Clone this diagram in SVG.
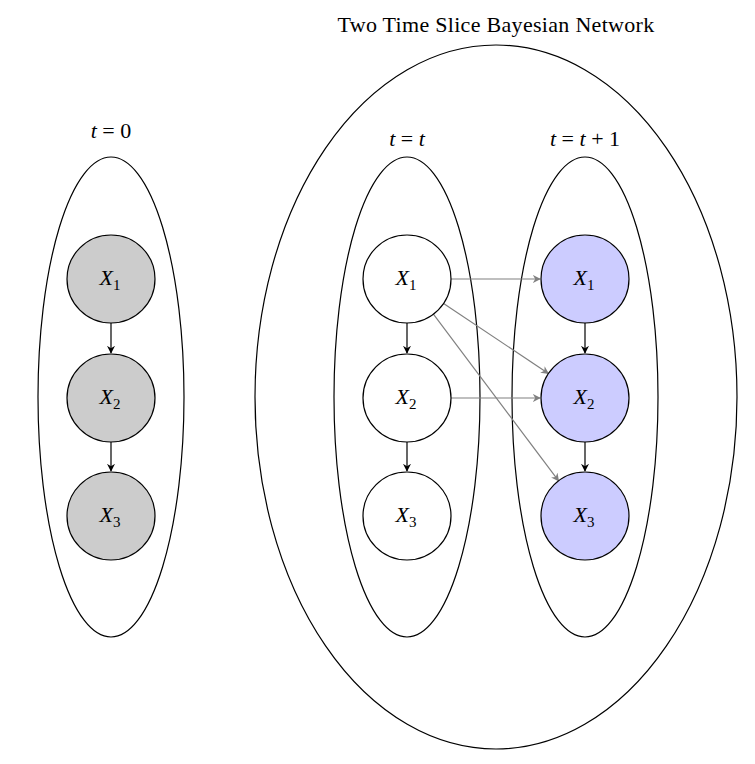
<svg xmlns="http://www.w3.org/2000/svg" width="755" height="764" viewBox="0 0 755 764">
<style>
.frame{fill:none;stroke:#000;stroke-width:1.2}
.node{stroke:#000;stroke-width:1.2}
.n0{fill:#cccccc}
.n1{fill:#ffffff}
.n2{fill:#ccccff}
.lbl{font-family:"Liberation Serif","DejaVu Serif",serif;font-size:22px;text-anchor:middle;fill:#000}
.ttl{font-size:22px;letter-spacing:0.3px}
.it{font-style:italic}
.sub{font-size:15px}
.blk{stroke:#000;stroke-width:1.2;fill:none;marker-end:url(#ab)}
.gry{stroke:#808080;stroke-width:1.2;fill:none;marker-end:url(#ag)}
</style>
<defs>
<marker id="ab" viewBox="0 0 10 10" refX="9" refY="5" markerWidth="8" markerHeight="8" markerUnits="userSpaceOnUse" orient="auto">
<path d="M0,0 L10,5 L0,10 L3,5 Z" fill="#000"/>
</marker>
<marker id="ag" viewBox="0 0 10 10" refX="9" refY="5" markerWidth="8" markerHeight="8" markerUnits="userSpaceOnUse" orient="auto">
<path d="M0,0 L10,5 L0,10 L3,5 Z" fill="#808080"/>
</marker>
</defs>
<rect width="755" height="764" fill="#fff"/>
<g id="frames">
<ellipse class="frame" cx="496" cy="397" rx="241" ry="352"/>
<ellipse class="frame" cx="111" cy="397" rx="73" ry="240"/>
<ellipse class="frame" cx="407" cy="397" rx="73" ry="240"/>
<ellipse class="frame" cx="585" cy="397" rx="73" ry="240"/>
<text class="lbl ttl" x="496" y="32">Two Time Slice Bayesian Network</text>
<text class="lbl" x="111" y="138" xml:space="preserve"><tspan class="it">t</tspan> = 0</text>
<text class="lbl" x="407" y="146"><tspan class="it">t</tspan> = <tspan class="it">t</tspan></text>
<text class="lbl" x="585" y="146"><tspan class="it">t</tspan> = <tspan class="it">t</tspan> + 1</text>
</g>
<g id="connectors">
<line class="blk" x1="111" y1="323" x2="111" y2="353"/>
<line class="blk" x1="111" y1="442" x2="111" y2="471"/>
<line class="blk" x1="407" y1="323" x2="407" y2="353"/>
<line class="blk" x1="407" y1="442" x2="407" y2="471"/>
<line class="blk" x1="585" y1="323" x2="585" y2="353"/>
<line class="blk" x1="585" y1="442" x2="585" y2="471"/>
<line class="gry" x1="451" y1="279" x2="540" y2="279"/>
<line class="gry" x1="451" y1="398" x2="540" y2="398"/>
<line class="gry" x1="443.6" y1="303.5" x2="548.4" y2="373.5"/>
<line class="gry" x1="433.4" y1="314.2" x2="558.6" y2="480.8"/>
</g>
<g id="a1"><circle class="node n0" cx="111" cy="279" r="44"/><text class="lbl" x="110" y="285"><tspan class="it">X</tspan><tspan class="sub" dy="5">1</tspan></text></g>
<g id="a2"><circle class="node n0" cx="111" cy="398" r="44"/><text class="lbl" x="110" y="404"><tspan class="it">X</tspan><tspan class="sub" dy="5">2</tspan></text></g>
<g id="a3"><circle class="node n0" cx="111" cy="516" r="44"/><text class="lbl" x="110" y="522"><tspan class="it">X</tspan><tspan class="sub" dy="5">3</tspan></text></g>
<g id="b1"><circle class="node n1" cx="407" cy="279" r="44"/><text class="lbl" x="406" y="285"><tspan class="it">X</tspan><tspan class="sub" dy="5">1</tspan></text></g>
<g id="b2"><circle class="node n1" cx="407" cy="398" r="44"/><text class="lbl" x="406" y="404"><tspan class="it">X</tspan><tspan class="sub" dy="5">2</tspan></text></g>
<g id="b3"><circle class="node n1" cx="407" cy="516" r="44"/><text class="lbl" x="406" y="522"><tspan class="it">X</tspan><tspan class="sub" dy="5">3</tspan></text></g>
<g id="c1"><circle class="node n2" cx="585" cy="279" r="44"/><text class="lbl" x="584" y="285"><tspan class="it">X</tspan><tspan class="sub" dy="5">1</tspan></text></g>
<g id="c2"><circle class="node n2" cx="585" cy="398" r="44"/><text class="lbl" x="584" y="404"><tspan class="it">X</tspan><tspan class="sub" dy="5">2</tspan></text></g>
<g id="c3"><circle class="node n2" cx="585" cy="516" r="44"/><text class="lbl" x="584" y="522"><tspan class="it">X</tspan><tspan class="sub" dy="5">3</tspan></text></g>
</svg>
